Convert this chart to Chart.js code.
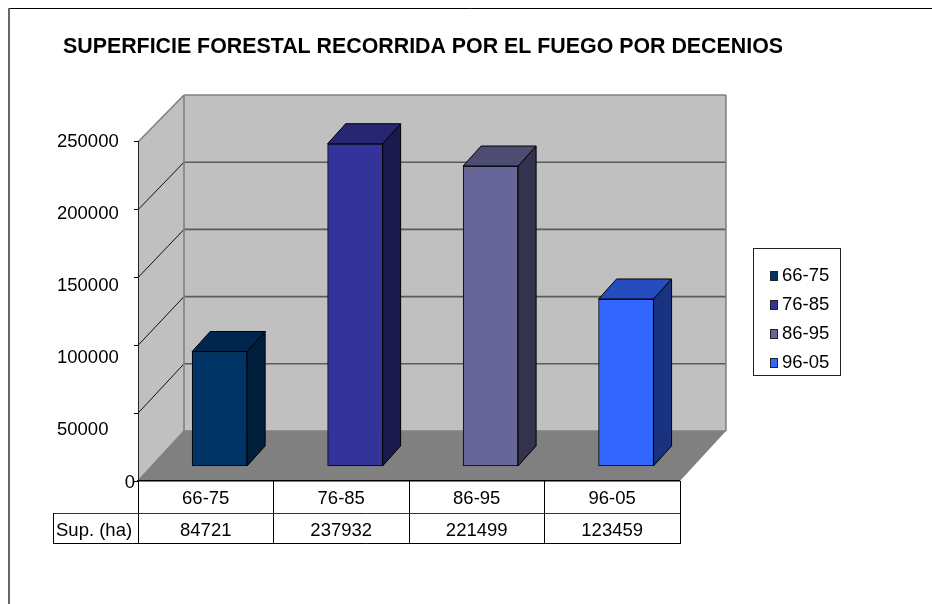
<!DOCTYPE html>
<html>
<head>
<meta charset="utf-8">
<title>Superficie forestal</title>
<script src="https://cdn.jsdelivr.net/npm/chart.js@4"></script>
<style>
html, body { margin: 0; padding: 0; background: #fff; }
#wrap { width: 932px; height: 604px; }
</style>
</head>
<body>
<div id="wrap"><canvas id="fuegoChart" width="932" height="604"></canvas></div>
<script>
// datos
const categories = ["66-75", "76-85", "86-95", "96-05"];
const supHa = [84721, 237932, 221499, 123459];
const yTicks = [0, 50000, 100000, 150000, 200000, 250000];
const rowLabel = "Sup. (ha)";
const titleText = "SUPERFICIE FORESTAL RECORRIDA POR EL FUEGO POR DECENIOS";

// colores de cada barra: frente, techo, lateral
const frontColors = ["#003366", "#333399", "#666699", "#3366ff"];
const topColors = ["#00264d", "#262673", "#4d4d73", "#264dbf"];
const sideColors = ["#001f3d", "#1a1a4d", "#33334d", "#1a3380"];

const font = "'Liberation Sans', Arial, sans-serif";
const fontSize = 18.5;

// efecto 3D
const wallDx = 46, wallDy = 50;    // fondo respecto al frente
const barDx = 13.9, barDy = 14.6;    // barra respecto al frente
const barDepthX = 18, barDepthY = 20;
const backScale = 336 / 339;

function line(ctx, x1, y1, x2, y2) {
    ctx.beginPath();
    ctx.moveTo(x1, y1);
    ctx.lineTo(x2, y2);
    ctx.stroke();
}

function poly(ctx, pts, fill) {
    ctx.beginPath();
    pts.forEach((p, i) => i ? ctx.lineTo(p[0], p[1]) : ctx.moveTo(p[0], p[1]));
    ctx.closePath();
    ctx.fillStyle = fill;
    ctx.fill();
}

const paredes = {
    id: "paredes",
    afterLayout(chart) {
        chart.titleBlock.left = 63;
        chart.titleBlock.right = 783;
        // la leyenda va suelta, no pegada al area del grafico
        chart.legend.left = 761.25;
        chart.legend.right = 841;
        chart.legend.top = 256;
        chart.legend.bottom = 400;
    },
    beforeDraw(chart) {
        const ctx = chart.ctx;
        const y = chart.scales.y;
        const area = chart.chartArea;
        const y0 = y.getPixelForValue(0);
        const yMax = y.getPixelForValue(yTicks[yTicks.length - 1]);
        const backY = v => y0 - wallDy - (y0 - y.getPixelForValue(v)) * backScale;
        const backTop = backY(yTicks[yTicks.length - 1]);
        const bl = area.left + wallDx, br = area.right + wallDx;

        ctx.save();
        // marco exterior
        ctx.strokeStyle = "#000";
        ctx.lineWidth = 1;
        line(ctx, 9, 8.5, 932, 8.5);
        ctx.strokeStyle = "#666";
        ctx.lineWidth = 2;
        line(ctx, 9, 8, 9, 604);

        // paredes y suelo
        poly(ctx, [[area.left, y0], [bl, y0 - wallDy], [bl, backTop], [area.left, yMax]], "#c0c0c0");
        poly(ctx, [[bl, y0 - wallDy], [br, y0 - wallDy], [br, backTop], [bl, backTop]], "#c0c0c0");
        poly(ctx, [[area.left, y0], [area.right, y0], [br, y0 - wallDy], [bl, y0 - wallDy]], "#808080");

        // rejilla
        yTicks.forEach(v => {
            if (v === 0) return;
            const fy = y.getPixelForValue(v);
            if (v !== yTicks[yTicks.length - 1]) {
                ctx.strokeStyle = "#111";
                ctx.lineWidth = 1;
                line(ctx, area.left, fy, bl, backY(v));
                ctx.strokeStyle = "#5a5a5a";
                ctx.lineWidth = 1.6;
                line(ctx, bl, backY(v), br, backY(v));
            }
        });
        ctx.strokeStyle = "#808080";
        ctx.lineWidth = 1.6;
        line(ctx, area.left, yMax, bl, backTop);
        line(ctx, bl, backTop, br, backTop);
        line(ctx, br, backTop, br, y0 - wallDy);
        line(ctx, bl, backTop, bl, y0 - wallDy);
        line(ctx, bl, y0 - wallDy, br, y0 - wallDy);
        line(ctx, area.left, y0, bl, y0 - wallDy);
        ctx.restore();

        // etiquetas del eje y: en el original no van alineadas con las marcas
        const items = y.getLabelItems(area);
        const nudgeY = [1.5, 16.5, 12.5, 8, 4.5, 0];
        items.forEach((it, i) => {
            const tr = it.options.translation;
            if (i === 0) {
                it.options.translation = [135, tr[1] + nudgeY[i]];
                return;
            }
            it.options.textAlign = "left";
            it.options.translation = [57, tr[1] + nudgeY[i]];
        });
    },
    beforeDatasetsDraw(chart) {
        chart.ctx.save();
        chart.ctx.translate(barDx, -barDy);
    },
    afterDatasetsDraw(chart) {
        const ctx = chart.ctx;
        ctx.lineWidth = 1;
        ctx.strokeStyle = "#000";
        chart.getDatasetMeta(0).data.forEach((bar, i) => {
            const l = bar.x - bar.width / 2, r = bar.x + bar.width / 2;
            const t = bar.y, b = bar.base;
            const side = [[r, t], [r + barDepthX, t - barDepthY], [r + barDepthX, b - barDepthY], [r, b]];
            const top = [[l, t], [r, t], [r + barDepthX, t - barDepthY], [l + barDepthX, t - barDepthY]];
            poly(ctx, side, sideColors[i]);
            ctx.stroke();
            poly(ctx, top, topColors[i]);
            ctx.stroke();
        });
        ctx.restore();
    },
    afterDraw(chart) {
        const ctx = chart.ctx;
        const x = chart.scales.x;
        const area = chart.chartArea;
        const y0 = area.bottom;
        const rowY = 513, endY = 544, cellL = 53;
        ctx.save();

        // tabla de datos
        ctx.lineWidth = 1;
        ctx.strokeStyle = "#000";
        const colW = (area.right - area.left) / categories.length;
        for (let i = 0; i <= categories.length; i++) {
            const cx = Math.round(area.left + colW * i) + 0.5;
            line(ctx, cx, y0, cx, endY);
        }
        ctx.strokeStyle = "#333";
        line(ctx, cellL + 0.5, rowY + 0.5, area.right, rowY + 0.5);
        ctx.strokeStyle = "#000";
        line(ctx, cellL + 0.5, endY - 0.5, area.right, endY - 0.5);
        line(ctx, cellL + 0.5, rowY, cellL + 0.5, endY);

        ctx.fillStyle = "#000";
        ctx.font = fontSize + "px " + font;
        ctx.textBaseline = "middle";
        ctx.textAlign = "center";
        supHa.forEach((v, i) => ctx.fillText(String(v), x.getPixelForTick(i), 531));
        ctx.textAlign = "left";
        ctx.fillText(rowLabel, 56, 531);

        // caja y muestras de la leyenda
        ctx.strokeStyle = "#222";
        ctx.strokeRect(753.5, 248.5, 87, 127);
        chart.legend.legendHitBoxes.forEach((hb, i) => {
            const cy = Math.round(hb.top + hb.height / 2);
            ctx.fillStyle = frontColors[i];
            ctx.fillRect(770.5, cy - 4.5, 7, 9);
            ctx.strokeRect(770.5, cy - 4.5, 7, 9);
        });
        ctx.restore();
    }
};

new Chart(document.getElementById("fuegoChart"), {
    type: "bar",
    plugins: [paredes],
    data: {
        labels: categories,
        datasets: [{
            label: rowLabel,
            data: supHa,
            backgroundColor: frontColors,
            borderColor: "#000",
            borderWidth: 1,
            borderSkipped: false,
            barThickness: 55
        }]
    },
    options: {
        responsive: false,
        animation: false,
        layout: { padding: { left: 0, right: 174, top: 0, bottom: 0 } },
        scales: {
            x: {
                afterFit(s) { s.height = 123; },
                grid: { drawOnChartArea: false, drawTicks: false, color: "#000" },
                border: { color: "#000", width: 1.5 },
                ticks: { color: "#000", font: { family: font, size: fontSize }, padding: 7, maxRotation: 0 }
            },
            y: {
                min: yTicks[0],
                max: yTicks[yTicks.length - 1],
                afterFit(s) { s.width = 138; },
                grid: { drawOnChartArea: false, tickLength: 4, color: "#000" },
                border: { color: "#222", width: 1 },
                ticks: {
                    stepSize: yTicks[1],
                    color: "#000",
                    font: { family: font, size: fontSize },
                    callback: v => String(v)
                }
            }
        },
        plugins: {
            title: {
                display: true,
                text: titleText,
                color: "#000",
                font: { family: font, size: 21.4, weight: "bold" },
                padding: { top: 34.2, bottom: 82.1 }
            },
            legend: {
                position: "right",
                align: "start",
                labels: {
                    boxWidth: 1,
                    boxHeight: 1,
                    padding: 10.5,
                    color: "#000",
                    font: { family: font, size: fontSize },
                    generateLabels: () => categories.map((c, i) => ({
                        text: c, fontColor: "#000", fillStyle: "rgba(0,0,0,0)", strokeStyle: "rgba(0,0,0,0)", lineWidth: 0, index: i
                    }))
                }
            },
            tooltip: { enabled: false }
        }
    }
});
</script>
</body>
</html>
